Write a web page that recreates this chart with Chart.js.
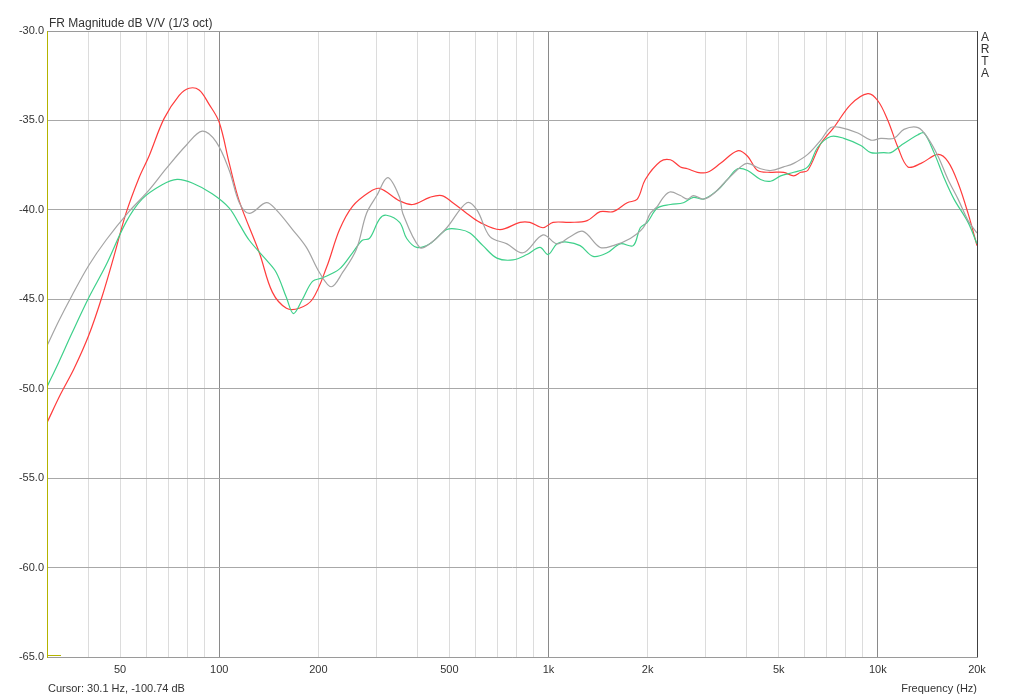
<!DOCTYPE html>
<html>
<head>
<meta charset="utf-8">
<title>FR Magnitude</title>
<script src="https://cdn.jsdelivr.net/npm/chart.js@4/dist/chart.umd.min.js"></script>
<style>
  html, body { margin: 0; padding: 0; background: #fff; }
  #frChart { display: block; }
</style>
</head>
<body>
<canvas id="frChart" width="1024" height="696"></canvas>
<script>
const redFreq = [30, 33, 36.2, 40.2, 44, 47.9, 52.1, 57.1, 61.2, 68, 75.6, 81, 86.9, 93.2, 100, 107.3, 115, 132.4, 145, 160, 175, 192, 212, 232, 254, 286, 307, 353, 387, 436, 474, 512, 565, 619, 712, 819, 878, 962, 1032, 1163, 1310, 1435, 1572, 1734, 1860, 1967, 2185, 2344, 2514, 2640, 2832, 3038, 3328, 3749, 4022, 4312, 4724, 5175, 5552, 5831, 6123, 6709, 7348, 8278, 9324, 10000, 10725, 11505, 12340, 13520, 15230, 16330, 17520, 18790, 20000];
const redDb = [-51.9, -50.3, -48.9, -47.0, -44.9, -42.6, -40.2, -38.2, -37.0, -34.9, -33.6, -33.2, -33.3, -34.1, -35.1, -37.4, -39.5, -42.4, -44.6, -45.5, -45.5, -45.0, -43.2, -41.1, -39.8, -39.0, -38.8, -39.5, -39.7, -39.3, -39.2, -39.6, -40.2, -40.7, -41.1, -40.7, -40.7, -41.0, -40.7, -40.7, -40.6, -40.1, -40.1, -39.6, -39.4, -38.3, -37.3, -37.2, -37.6, -37.7, -37.9, -37.9, -37.4, -36.7, -37.0, -37.8, -37.9, -37.9, -38.1, -37.9, -37.8, -36.3, -35.4, -34.1, -33.5, -33.9, -35.0, -36.5, -37.6, -37.4, -36.9, -37.3, -38.5, -40.2, -42.0];

const greyFreq = [30, 32.6, 35.7, 40.2, 45.3, 53.2, 61.2, 69, 79.3, 88.8, 97.9, 107.3, 115.1, 123.4, 139, 149, 167, 184, 201.5, 219, 237, 261, 280, 301, 325, 353, 361, 406, 436, 491, 565, 606, 664, 748, 837, 962, 1061, 1163, 1274, 1435, 1572, 1771, 1940, 2037, 2140, 2232, 2344, 2514, 2640, 2754, 2954, 3168, 3495, 3828, 4022, 4404, 4724, 5175, 5552, 6123, 6709, 7195, 7718, 8692, 9521, 10212, 11190, 12000, 13240, 14200, 15230, 16330, 17520, 18790, 20000];
const greyDb = [-47.6, -46.2, -44.8, -43.1, -41.7, -40.1, -38.9, -37.7, -36.4, -35.6, -36.2, -37.8, -39.6, -40.2, -39.6, -40.0, -41.1, -42.1, -43.5, -44.3, -43.5, -42.2, -40.2, -39.2, -38.2, -39.3, -40.2, -42.1, -41.9, -41.0, -39.6, -40.0, -41.5, -41.9, -42.4, -41.4, -41.9, -41.5, -41.2, -42.1, -42.0, -41.6, -41.0, -40.2, -39.8, -39.3, -39.0, -39.2, -39.4, -39.2, -39.4, -39.1, -38.3, -37.6, -37.4, -37.7, -37.8, -37.6, -37.4, -36.9, -36.1, -35.4, -35.4, -35.7, -36.1, -36.0, -36.0, -35.5, -35.4, -36.0, -37.0, -38.3, -39.4, -40.6, -41.3];

const greenFreq = [30, 32.6, 35.7, 40.2, 45.3, 52.1, 58.3, 67.1, 74.5, 82.8, 95.2, 107.3, 115.1, 123.4, 139, 149, 160, 168, 179, 192, 206, 232, 254, 272, 286, 307, 322, 353, 371, 398, 436, 491, 538, 577, 632, 697, 780, 860, 942, 997, 1061, 1138, 1247, 1366, 1507, 1651, 1808, 1899, 1994, 2140, 2344, 2567, 2754, 2954, 3258, 3495, 3749, 4022, 4404, 4724, 5066, 5552, 6123, 6569, 7195, 7882, 8876, 9521, 10430, 10955, 11750, 13240, 13800, 14810, 15880, 17030, 18790, 20000];
const greenDb = [-49.9, -48.5, -46.9, -44.9, -43.1, -40.7, -39.4, -38.6, -38.3, -38.5, -39.1, -39.9, -40.8, -41.7, -42.8, -43.5, -44.9, -45.8, -45.0, -44.0, -43.8, -43.3, -42.4, -41.7, -41.6, -40.5, -40.3, -40.7, -41.6, -42.1, -41.9, -41.1, -41.1, -41.3, -42.0, -42.7, -42.8, -42.5, -42.1, -42.5, -41.9, -41.8, -42.0, -42.6, -42.4, -41.9, -42.0, -41.0, -40.7, -39.9, -39.7, -39.6, -39.3, -39.4, -38.9, -38.3, -37.7, -37.8, -38.3, -38.4, -38.1, -37.9, -37.6, -36.5, -35.9, -36.0, -36.4, -36.8, -36.8, -36.8, -36.4, -35.8, -35.7, -36.8, -38.2, -39.4, -40.7, -41.9];

// axis ticks
const xGridValues = [40, 50, 60, 70, 80, 90, 100, 200, 300, 400, 500, 600, 700, 800, 900,
  1000, 2000, 3000, 4000, 5000, 6000, 7000, 8000, 9000, 10000, 20000];
const xLabelValues = [50, 100, 200, 500, 1000, 2000, 5000, 10000, 20000];
const xLabelNames = ['50', '100', '200', '500', '1k', '2k', '5k', '10k', '20k'];
const xMajorLines = [100, 1000, 10000];

const FONT = 'Arial, "Liberation Sans", sans-serif';

function toPoints(freqs, dbs) {
  return freqs.map((f, i) => ({ x: f, y: dbs[i] }));
}

function lineSet(label, freqs, dbs, color) {
  return {
    label: label,
    data: toPoints(freqs, dbs),
    borderColor: color,
    borderWidth: 1.2,
    pointRadius: 0,
    fill: false,
    tension: 0.35
  };
}

// ARTA style frame and texts
const artaDecor = {
  id: 'artaDecor',
  afterDraw(chart) {
    const ctx = chart.ctx;
    const a = chart.chartArea;
    ctx.save();
    ctx.lineWidth = 1;
    ctx.strokeStyle = '#9a9a9a';
    ctx.beginPath();
    ctx.moveTo(a.left, a.top + 0.5);
    ctx.lineTo(a.right, a.top + 0.5);
    ctx.stroke();
    ctx.strokeStyle = '#404040';
    ctx.beginPath();
    ctx.moveTo(a.right + 0.5, a.top);
    ctx.lineTo(a.right + 0.5, a.bottom);
    ctx.stroke();
    ctx.strokeStyle = '#b4b400';
    ctx.beginPath();
    ctx.moveTo(a.left + 0.5, a.top);
    ctx.lineTo(a.left + 0.5, a.bottom);
    ctx.moveTo(a.left, a.bottom - 1.5);
    ctx.lineTo(a.left + 14, a.bottom - 1.5);
    ctx.stroke();

    ctx.fillStyle = '#333';
    ctx.font = '12px ' + FONT;
    ctx.textAlign = 'left';
    ctx.textBaseline = 'alphabetic';
    ctx.fillText('FR Magnitude dB V/V (1/3 oct)', 49, 27);
    ctx.font = '11px ' + FONT;
    ctx.fillText('Cursor: 30.1 Hz, -100.74 dB', 48, 692);
    ctx.textAlign = 'right';
    ctx.fillText('Frequency (Hz)', a.right, 692);
    ctx.textAlign = 'center';
    ctx.textBaseline = 'middle';
    ctx.font = '12px ' + FONT;
    ['A', 'R', 'T', 'A'].forEach((ch, i) => ctx.fillText(ch, a.right + 8, a.top + 7 + i * 12));
    ctx.restore();
  }
};

new Chart(document.getElementById('frChart'), {
  type: 'line',
  data: {
    datasets: [
      lineSet('Grey', greyFreq, greyDb, '#a4a4a4'),
      lineSet('Green', greenFreq, greenDb, '#3ed08a'),
      lineSet('Red', redFreq, redDb, '#ff3c3c')
    ]
  },
  options: {
    responsive: false,
    animation: false,
    devicePixelRatio: 1,
    layout: { padding: { top: 31, right: 47, bottom: 0, left: 0 } },
    plugins: { legend: { display: false }, tooltip: { enabled: false } },
    scales: {
      x: {
        type: 'logarithmic',
        min: 30,
        max: 20000,
        afterBuildTicks(scale) {
          scale.ticks = xGridValues.map(v => ({ value: v }));
        },
        afterFit(scale) { scale.height = 39; },
        border: { display: true, color: '#9a9a9a' },
        grid: {
          drawTicks: false,
          color(c) {
            return xMajorLines.includes(c.tick.value) ? '#8a8a8a' : '#dcdcdc';
          }
        },
        ticks: {
          autoSkip: false,
          maxRotation: 0,
          padding: 6,
          color: '#333',
          font: { family: FONT, size: 11 },
          callback(v) {
            const i = xLabelValues.indexOf(v);
            return i >= 0 ? xLabelNames[i] : '';
          }
        }
      },
      y: {
        min: -65,
        max: -30,
        afterFit(scale) { scale.width = 47; },
        border: { display: true, color: '#b4b400' },
        grid: { drawTicks: false, color: '#a8a8a8' },
        ticks: {
          stepSize: 5,
          padding: 3,
          color: '#333',
          font: { family: FONT, size: 11 },
          callback(v) { return v.toFixed(1); }
        }
      }
    }
  },
  plugins: [artaDecor]
});
</script>
</body>
</html>
